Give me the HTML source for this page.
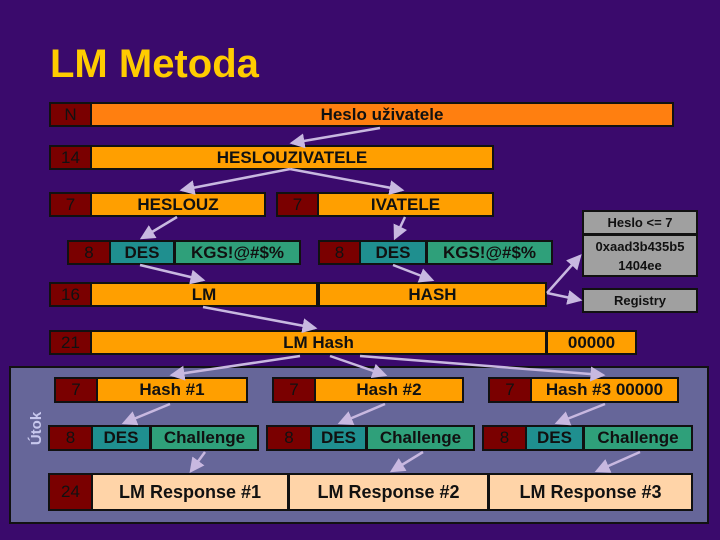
<!DOCTYPE html>
<html><head><meta charset="utf-8"><style>
body{margin:0;width:720px;height:540px;background:#3a0a6c;position:relative;overflow:hidden;font-family:"Liberation Sans",sans-serif;font-weight:bold}
.b{position:absolute;box-sizing:border-box;border:2px solid #111;display:flex;align-items:center;justify-content:center;font-size:17px;color:#111}
.r{background:#7a0000;font-weight:normal}
.o{background:#ff9f00}
.t{background:#1f8f8f}
.g{background:#2fa07a}
.gr{background:#a0a0a0;font-size:13px}
.p{background:#ffd4a8;font-size:18px}
svg{position:absolute;left:0;top:0}
</style></head><body>
<div style="position:absolute;left:50px;top:42px;font-size:40px;color:#ffcc00">LM Metoda</div>
<div class="b r" style="left:49px;top:102px;width:43px;height:25px">N</div>
<div class="b" style="left:90px;top:102px;width:584px;height:25px;background:#ff7f10">Heslo uživatele</div>
<div class="b r" style="left:49px;top:145px;width:43px;height:25px">14</div>
<div class="b o" style="left:90px;top:145px;width:404px;height:25px">HESLOUZIVATELE</div>
<div class="b r" style="left:49px;top:192px;width:43px;height:25px">7</div>
<div class="b o" style="left:90px;top:192px;width:176px;height:25px">HESLOUZ</div>
<div class="b r" style="left:276px;top:192px;width:43px;height:25px">7</div>
<div class="b o" style="left:317px;top:192px;width:177px;height:25px">IVATELE</div>
<div class="b r" style="left:67px;top:240px;width:44px;height:25px">8</div>
<div class="b t" style="left:109px;top:240px;width:66px;height:25px">DES</div>
<div class="b g" style="left:174px;top:240px;width:127px;height:25px">KGS!@#$%</div>
<div class="b r" style="left:318px;top:240px;width:43px;height:25px">8</div>
<div class="b t" style="left:359px;top:240px;width:68px;height:25px">DES</div>
<div class="b g" style="left:426px;top:240px;width:127px;height:25px">KGS!@#$%</div>
<div class="b gr" style="left:582px;top:210px;width:116px;height:25px">Heslo &lt;= 7</div>
<div class="b gr" style="left:582px;top:234px;width:116px;height:43px;text-align:center;line-height:19px">0xaad3b435b5<br>1404ee</div>
<div class="b gr" style="left:582px;top:288px;width:116px;height:25px">Registry</div>
<div class="b r" style="left:49px;top:282px;width:43px;height:25px">16</div>
<div class="b o" style="left:90px;top:282px;width:228px;height:25px">LM</div>
<div class="b o" style="left:318px;top:282px;width:229px;height:25px">HASH</div>
<div class="b r" style="left:49px;top:330px;width:43px;height:25px">21</div>
<div class="b o" style="left:90px;top:330px;width:457px;height:25px">LM Hash</div>
<div class="b o" style="left:546px;top:330px;width:91px;height:25px">00000</div>
<div style="position:absolute;left:9px;top:366px;width:700px;height:158px;box-sizing:border-box;border:2px solid #111;background:#666699"></div>
<div style="position:absolute;left:20px;top:420px;transform:rotate(-90deg);color:#c8c8ee;font-size:15px">Útok</div>
<div class="b r" style="left:54px;top:377px;width:44px;height:26px">7</div>
<div class="b o" style="left:96px;top:377px;width:152px;height:26px">Hash #1</div>
<div class="b r" style="left:272px;top:377px;width:44px;height:26px">7</div>
<div class="b o" style="left:314px;top:377px;width:150px;height:26px">Hash #2</div>
<div class="b r" style="left:488px;top:377px;width:44px;height:26px">7</div>
<div class="b o" style="left:530px;top:377px;width:149px;height:26px">Hash #3 00000</div>
<div class="b r" style="left:48px;top:425px;width:45px;height:26px">8</div>
<div class="b t" style="left:91px;top:425px;width:60px;height:26px">DES</div>
<div class="b g" style="left:150px;top:425px;width:109px;height:26px">Challenge</div>
<div class="b r" style="left:266px;top:425px;width:46px;height:26px">8</div>
<div class="b t" style="left:310px;top:425px;width:57px;height:26px">DES</div>
<div class="b g" style="left:366px;top:425px;width:109px;height:26px">Challenge</div>
<div class="b r" style="left:482px;top:425px;width:45px;height:26px">8</div>
<div class="b t" style="left:525px;top:425px;width:59px;height:26px">DES</div>
<div class="b g" style="left:583px;top:425px;width:110px;height:26px">Challenge</div>
<div class="b r" style="left:48px;top:473px;width:45px;height:38px">24</div>
<div class="b p" style="left:91px;top:473px;width:198px;height:38px">LM Response #1</div>
<div class="b p" style="left:288px;top:473px;width:201px;height:38px">LM Response #2</div>
<div class="b p" style="left:488px;top:473px;width:205px;height:38px">LM Response #3</div>
<svg width="720" height="540"><defs><marker id="a" markerWidth="6" markerHeight="6" refX="5" refY="3" orient="auto"><path d="M0,0L6,3L0,6z" fill="#c8b8e0"/></marker></defs>
<g stroke="#c8b8e0" stroke-width="2.5" marker-end="url(#a)">
<line x1="380" y1="128" x2="292" y2="143"/>
<line x1="290" y1="169" x2="182" y2="190"/><line x1="290" y1="169" x2="402" y2="190"/>
<line x1="177" y1="217" x2="142" y2="238"/><line x1="405" y1="217" x2="395" y2="238"/>
<line x1="140" y1="265" x2="203" y2="280"/><line x1="393" y1="265" x2="432" y2="280"/>
<line x1="203" y1="307" x2="315" y2="328"/>
<line x1="547" y1="293" x2="580" y2="256"/><line x1="547" y1="293" x2="580" y2="300"/>
<line x1="300" y1="356" x2="172" y2="375"/><line x1="330" y1="356" x2="385" y2="375"/><line x1="360" y1="356" x2="603" y2="375"/>
<line x1="170" y1="404" x2="124" y2="423"/><line x1="385" y1="404" x2="340" y2="423"/><line x1="605" y1="404" x2="557" y2="423"/>
<line x1="205" y1="452" x2="191" y2="471"/><line x1="423" y1="452" x2="392" y2="471"/><line x1="640" y1="452" x2="597" y2="471"/>
</g></svg>
</body></html>
